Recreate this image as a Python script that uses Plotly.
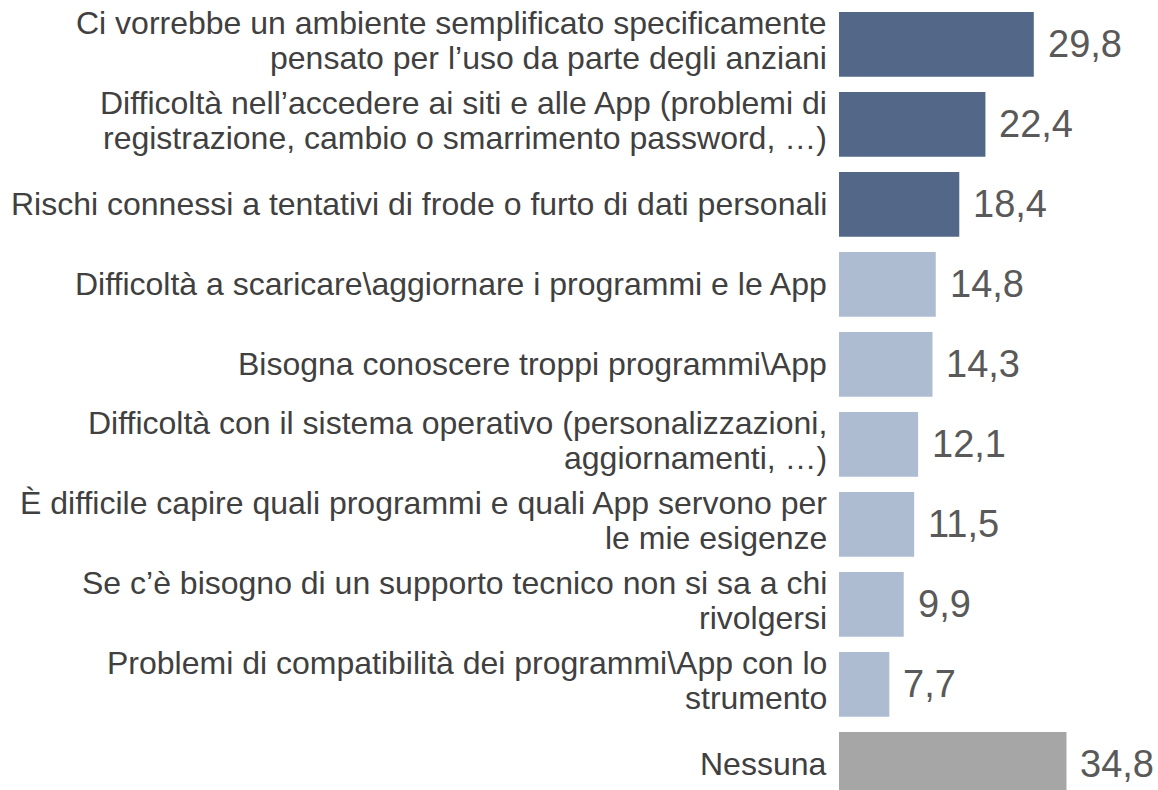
import plotly.graph_objects as go

# -- data ---------------------------------------------------------------------------------------------
categories = [
    "Ci vorrebbe un ambiente semplificato specificamente<br>pensato per l’uso da parte degli anziani",
    "Difficoltà nell’accedere ai siti e alle App (problemi di<br>registrazione, cambio o smarrimento password, …)",
    "Rischi connessi a tentativi di frode o furto di dati personali",
    "Difficoltà a scaricare\\aggiornare i programmi e le App",
    "Bisogna conoscere troppi programmi\\App",
    "Difficoltà con il sistema operativo (personalizzazioni,<br>aggiornamenti, …)",
    "È difficile capire quali programmi e quali App servono per<br>le mie esigenze",
    "Se c’è bisogno di un supporto tecnico non si sa a chi<br>rivolgersi",
    "Problemi di compatibilità dei programmi\\App con lo<br>strumento",
    "Nessuna",
]
values = [29.8, 22.4, 18.4, 14.8, 14.3, 12.1, 11.5, 9.9, 7.7, 34.8]
groups = ["top", "top", "top", "other", "other", "other", "other", "other", "other", "none"]

# -- theme --------------------------------------------------------------------------------------------
group_colors = {"top": "#536789", "other": "#adbcd1", "none": "#a6a6a6"}
font_family = "Liberation Sans, Arial, sans-serif"
line_step = 35    # px between lines of a wrapped label
block_lift = 4    # wrapped labels sit a little above the bar centre

fig = go.Figure()

fig.add_trace(go.Bar(y=categories, x=values, orientation="h",
                     marker=dict(color=[group_colors[g] for g in groups], line_width=0),
                     width=0.81, hoverinfo="skip"))

annotations = []

# category labels, one annotation per line so the line spacing can be tighter than plotly's default
for c in categories:
    lines = c.split("<br>")
    n = len(lines)
    for i, txt in enumerate(lines):
        annotations.append(dict(x=0, y=c, xref="paper", yref="y", text=txt, showarrow=False,
                                xanchor="right", yanchor="middle", xshift=-10,
                                yshift=block_lift * (n - 1) + ((n - 1) / 2 - i) * line_step,
                                font=dict(family=font_family, size=32, color="#404040")))

# value labels to the right of each bar
for c, v in zip(categories, values):
    annotations.append(dict(x=v, y=c, xref="x", yref="y", text=f"{v:.1f}".replace(".", ","),
                            showarrow=False, xanchor="left", yanchor="middle", xshift=12,
                            font=dict(family=font_family, size=38, color="#595959")))

fig.update_layout(annotations=annotations)

# the last bar runs past the bottom edge, as in the original slide
fig.update_yaxes(categoryorder="array", categoryarray=categories,
                 range=[9.321, -0.554], showgrid=False, zeroline=False, showline=False,
                 showticklabels=False, ticks="")

fig.update_xaxes(range=[0, 48.8], visible=False)

fig.update_layout(width=1158, height=790, autosize=False,
                  paper_bgcolor="white", plot_bgcolor="white", showlegend=False,
                  margin=dict(l=839, r=0, t=0, b=0, pad=0),
                  font=dict(family=font_family))

# drop the browser's default body margin so the figure fills the window exactly
fig.write_html("out.html", config={"displayModeBar": False},
               post_script="document.body.style.margin='0';document.body.style.overflow='hidden';")
